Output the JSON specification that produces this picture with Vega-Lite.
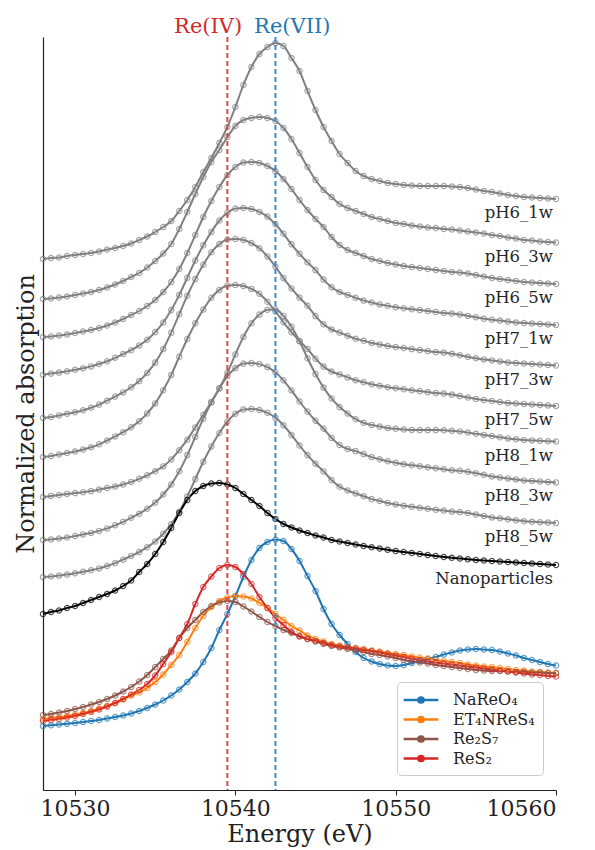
{
  "$schema": "https://vega.github.io/schema/vega-lite/v6.json",
  "width": 513,
  "height": 753,
  "autosize": {"type": "none"},
  "padding": {"left": 43, "top": 37, "right": 39, "bottom": 60},
  "background": "white",
  "config": {
    "font": "DejaVu Serif",
    "view": {"stroke": null},
    "axis": {"grid": false, "titleFontWeight": "normal", "labelColor": "#222", "titleColor": "#222", "domainColor": "#222", "tickColor": "#222"},
    "legend": {
      "orient": "none", "legendX": 354, "legendY": 645, "title": null,
      "labelFontSize": 16, "labelFont": "DejaVu Serif", "labelColor": "#222",
      "symbolType": "M-2,0H2M0.3,0A0.3,0.3,0,1,1,-0.3,0A0.3,0.3,0,1,1,0.3,0",
      "symbolSize": 300, "symbolStrokeWidth": 2.5, "symbolOffset": 6, "labelOffset": 22,
      "symbolOpacity": 1, "symbolFillColor": "white",
      "strokeColor": "#cccccc", "fillColor": "white", "cornerRadius": 4, "padding": 8, "rowPadding": 1.5
    }
  },
  "layer": [
    {
      "data": {"values": [
        {"sample":"pH6_1w","E":10528,"mu":5.31},{"sample":"pH6_1w","E":10528.5,"mu":5.32},{"sample":"pH6_1w","E":10529,"mu":5.325},{"sample":"pH6_1w","E":10529.5,"mu":5.34},{"sample":"pH6_1w","E":10530,"mu":5.35},{"sample":"pH6_1w","E":10530.5,"mu":5.36},{"sample":"pH6_1w","E":10531,"mu":5.37},{"sample":"pH6_1w","E":10531.5,"mu":5.385},{"sample":"pH6_1w","E":10532,"mu":5.405},{"sample":"pH6_1w","E":10532.5,"mu":5.42},{"sample":"pH6_1w","E":10533,"mu":5.44},{"sample":"pH6_1w","E":10533.5,"mu":5.465},{"sample":"pH6_1w","E":10534,"mu":5.5},{"sample":"pH6_1w","E":10534.5,"mu":5.535},{"sample":"pH6_1w","E":10535,"mu":5.58},{"sample":"pH6_1w","E":10535.5,"mu":5.63},{"sample":"pH6_1w","E":10536,"mu":5.69},{"sample":"pH6_1w","E":10536.5,"mu":5.79},{"sample":"pH6_1w","E":10537,"mu":5.9},{"sample":"pH6_1w","E":10537.5,"mu":6.03},{"sample":"pH6_1w","E":10538,"mu":6.18},{"sample":"pH6_1w","E":10538.5,"mu":6.32},{"sample":"pH6_1w","E":10539,"mu":6.47},{"sample":"pH6_1w","E":10539.5,"mu":6.63},{"sample":"pH6_1w","E":10540,"mu":6.83},{"sample":"pH6_1w","E":10540.5,"mu":7.05},{"sample":"pH6_1w","E":10541,"mu":7.23},{"sample":"pH6_1w","E":10541.5,"mu":7.36},{"sample":"pH6_1w","E":10542,"mu":7.43},{"sample":"pH6_1w","E":10542.5,"mu":7.47},{"sample":"pH6_1w","E":10543,"mu":7.44},{"sample":"pH6_1w","E":10543.5,"mu":7.32},{"sample":"pH6_1w","E":10544,"mu":7.19},{"sample":"pH6_1w","E":10544.5,"mu":6.99},{"sample":"pH6_1w","E":10545,"mu":6.8},{"sample":"pH6_1w","E":10545.5,"mu":6.63},{"sample":"pH6_1w","E":10546,"mu":6.49},{"sample":"pH6_1w","E":10546.5,"mu":6.36},{"sample":"pH6_1w","E":10547,"mu":6.27},{"sample":"pH6_1w","E":10547.5,"mu":6.19},{"sample":"pH6_1w","E":10548,"mu":6.14},{"sample":"pH6_1w","E":10548.5,"mu":6.11},{"sample":"pH6_1w","E":10549,"mu":6.09},{"sample":"pH6_1w","E":10549.5,"mu":6.07},{"sample":"pH6_1w","E":10550,"mu":6.06},{"sample":"pH6_1w","E":10550.5,"mu":6.05},{"sample":"pH6_1w","E":10551,"mu":6.045},{"sample":"pH6_1w","E":10551.5,"mu":6.04},{"sample":"pH6_1w","E":10552,"mu":6.04},{"sample":"pH6_1w","E":10552.5,"mu":6.04},{"sample":"pH6_1w","E":10553,"mu":6.04},{"sample":"pH6_1w","E":10553.5,"mu":6.035},{"sample":"pH6_1w","E":10554,"mu":6.03},{"sample":"pH6_1w","E":10554.5,"mu":6.02},{"sample":"pH6_1w","E":10555,"mu":6.005},{"sample":"pH6_1w","E":10555.5,"mu":5.99},{"sample":"pH6_1w","E":10556,"mu":5.98},{"sample":"pH6_1w","E":10556.5,"mu":5.965},{"sample":"pH6_1w","E":10557,"mu":5.95},{"sample":"pH6_1w","E":10557.5,"mu":5.94},{"sample":"pH6_1w","E":10558,"mu":5.93},{"sample":"pH6_1w","E":10558.5,"mu":5.925},{"sample":"pH6_1w","E":10559,"mu":5.92},{"sample":"pH6_1w","E":10559.5,"mu":5.915},{"sample":"pH6_1w","E":10560,"mu":5.91},
        {"sample":"pH6_3w","E":10528,"mu":4.91},{"sample":"pH6_3w","E":10528.5,"mu":4.915},{"sample":"pH6_3w","E":10529,"mu":4.925},{"sample":"pH6_3w","E":10529.5,"mu":4.935},{"sample":"pH6_3w","E":10530,"mu":4.95},{"sample":"pH6_3w","E":10530.5,"mu":4.965},{"sample":"pH6_3w","E":10531,"mu":4.98},{"sample":"pH6_3w","E":10531.5,"mu":5.0},{"sample":"pH6_3w","E":10532,"mu":5.025},{"sample":"pH6_3w","E":10532.5,"mu":5.055},{"sample":"pH6_3w","E":10533,"mu":5.09},{"sample":"pH6_3w","E":10533.5,"mu":5.13},{"sample":"pH6_3w","E":10534,"mu":5.17},{"sample":"pH6_3w","E":10534.5,"mu":5.225},{"sample":"pH6_3w","E":10535,"mu":5.29},{"sample":"pH6_3w","E":10535.5,"mu":5.365},{"sample":"pH6_3w","E":10536,"mu":5.46},{"sample":"pH6_3w","E":10536.5,"mu":5.61},{"sample":"pH6_3w","E":10537,"mu":5.78},{"sample":"pH6_3w","E":10537.5,"mu":5.96},{"sample":"pH6_3w","E":10538,"mu":6.13},{"sample":"pH6_3w","E":10538.5,"mu":6.28},{"sample":"pH6_3w","E":10539,"mu":6.4},{"sample":"pH6_3w","E":10539.5,"mu":6.53},{"sample":"pH6_3w","E":10540,"mu":6.64},{"sample":"pH6_3w","E":10540.5,"mu":6.7},{"sample":"pH6_3w","E":10541,"mu":6.72},{"sample":"pH6_3w","E":10541.5,"mu":6.73},{"sample":"pH6_3w","E":10542,"mu":6.72},{"sample":"pH6_3w","E":10542.5,"mu":6.69},{"sample":"pH6_3w","E":10543,"mu":6.62},{"sample":"pH6_3w","E":10543.5,"mu":6.51},{"sample":"pH6_3w","E":10544,"mu":6.37},{"sample":"pH6_3w","E":10544.5,"mu":6.23},{"sample":"pH6_3w","E":10545,"mu":6.1},{"sample":"pH6_3w","E":10545.5,"mu":6.0},{"sample":"pH6_3w","E":10546,"mu":5.93},{"sample":"pH6_3w","E":10546.5,"mu":5.86},{"sample":"pH6_3w","E":10547,"mu":5.82},{"sample":"pH6_3w","E":10547.5,"mu":5.79},{"sample":"pH6_3w","E":10548,"mu":5.76},{"sample":"pH6_3w","E":10548.5,"mu":5.73},{"sample":"pH6_3w","E":10549,"mu":5.71},{"sample":"pH6_3w","E":10549.5,"mu":5.69},{"sample":"pH6_3w","E":10550,"mu":5.67},{"sample":"pH6_3w","E":10550.5,"mu":5.66},{"sample":"pH6_3w","E":10551,"mu":5.645},{"sample":"pH6_3w","E":10551.5,"mu":5.635},{"sample":"pH6_3w","E":10552,"mu":5.625},{"sample":"pH6_3w","E":10552.5,"mu":5.62},{"sample":"pH6_3w","E":10553,"mu":5.61},{"sample":"pH6_3w","E":10553.5,"mu":5.605},{"sample":"pH6_3w","E":10554,"mu":5.595},{"sample":"pH6_3w","E":10554.5,"mu":5.585},{"sample":"pH6_3w","E":10555,"mu":5.575},{"sample":"pH6_3w","E":10555.5,"mu":5.565},{"sample":"pH6_3w","E":10556,"mu":5.55},{"sample":"pH6_3w","E":10556.5,"mu":5.54},{"sample":"pH6_3w","E":10557,"mu":5.525},{"sample":"pH6_3w","E":10557.5,"mu":5.515},{"sample":"pH6_3w","E":10558,"mu":5.5},{"sample":"pH6_3w","E":10558.5,"mu":5.495},{"sample":"pH6_3w","E":10559,"mu":5.485},{"sample":"pH6_3w","E":10559.5,"mu":5.48},{"sample":"pH6_3w","E":10560,"mu":5.475},
        {"sample":"pH6_5w","E":10528,"mu":4.53},{"sample":"pH6_5w","E":10528.5,"mu":4.535},{"sample":"pH6_5w","E":10529,"mu":4.545},{"sample":"pH6_5w","E":10529.5,"mu":4.555},{"sample":"pH6_5w","E":10530,"mu":4.57},{"sample":"pH6_5w","E":10530.5,"mu":4.585},{"sample":"pH6_5w","E":10531,"mu":4.6},{"sample":"pH6_5w","E":10531.5,"mu":4.62},{"sample":"pH6_5w","E":10532,"mu":4.645},{"sample":"pH6_5w","E":10532.5,"mu":4.675},{"sample":"pH6_5w","E":10533,"mu":4.71},{"sample":"pH6_5w","E":10533.5,"mu":4.75},{"sample":"pH6_5w","E":10534,"mu":4.79},{"sample":"pH6_5w","E":10534.5,"mu":4.84},{"sample":"pH6_5w","E":10535,"mu":4.9},{"sample":"pH6_5w","E":10535.5,"mu":4.98},{"sample":"pH6_5w","E":10536,"mu":5.08},{"sample":"pH6_5w","E":10536.5,"mu":5.21},{"sample":"pH6_5w","E":10537,"mu":5.37},{"sample":"pH6_5w","E":10537.5,"mu":5.55},{"sample":"pH6_5w","E":10538,"mu":5.73},{"sample":"pH6_5w","E":10538.5,"mu":5.89},{"sample":"pH6_5w","E":10539,"mu":6.03},{"sample":"pH6_5w","E":10539.5,"mu":6.15},{"sample":"pH6_5w","E":10540,"mu":6.23},{"sample":"pH6_5w","E":10540.5,"mu":6.275},{"sample":"pH6_5w","E":10541,"mu":6.28},{"sample":"pH6_5w","E":10541.5,"mu":6.27},{"sample":"pH6_5w","E":10542,"mu":6.24},{"sample":"pH6_5w","E":10542.5,"mu":6.19},{"sample":"pH6_5w","E":10543,"mu":6.11},{"sample":"pH6_5w","E":10543.5,"mu":6.01},{"sample":"pH6_5w","E":10544,"mu":5.9},{"sample":"pH6_5w","E":10544.5,"mu":5.8},{"sample":"pH6_5w","E":10545,"mu":5.71},{"sample":"pH6_5w","E":10545.5,"mu":5.63},{"sample":"pH6_5w","E":10546,"mu":5.53},{"sample":"pH6_5w","E":10546.5,"mu":5.45},{"sample":"pH6_5w","E":10547,"mu":5.4},{"sample":"pH6_5w","E":10547.5,"mu":5.37},{"sample":"pH6_5w","E":10548,"mu":5.34},{"sample":"pH6_5w","E":10548.5,"mu":5.31},{"sample":"pH6_5w","E":10549,"mu":5.29},{"sample":"pH6_5w","E":10549.5,"mu":5.27},{"sample":"pH6_5w","E":10550,"mu":5.255},{"sample":"pH6_5w","E":10550.5,"mu":5.24},{"sample":"pH6_5w","E":10551,"mu":5.23},{"sample":"pH6_5w","E":10551.5,"mu":5.22},{"sample":"pH6_5w","E":10552,"mu":5.21},{"sample":"pH6_5w","E":10552.5,"mu":5.2},{"sample":"pH6_5w","E":10553,"mu":5.19},{"sample":"pH6_5w","E":10553.5,"mu":5.18},{"sample":"pH6_5w","E":10554,"mu":5.175},{"sample":"pH6_5w","E":10554.5,"mu":5.165},{"sample":"pH6_5w","E":10555,"mu":5.15},{"sample":"pH6_5w","E":10555.5,"mu":5.135},{"sample":"pH6_5w","E":10556,"mu":5.12},{"sample":"pH6_5w","E":10556.5,"mu":5.11},{"sample":"pH6_5w","E":10557,"mu":5.1},{"sample":"pH6_5w","E":10557.5,"mu":5.09},{"sample":"pH6_5w","E":10558,"mu":5.08},{"sample":"pH6_5w","E":10558.5,"mu":5.075},{"sample":"pH6_5w","E":10559,"mu":5.07},{"sample":"pH6_5w","E":10559.5,"mu":5.065},{"sample":"pH6_5w","E":10560,"mu":5.06},
        {"sample":"pH7_1w","E":10528,"mu":4.15},{"sample":"pH7_1w","E":10528.5,"mu":4.164},{"sample":"pH7_1w","E":10529,"mu":4.174},{"sample":"pH7_1w","E":10529.5,"mu":4.188},{"sample":"pH7_1w","E":10530,"mu":4.202},{"sample":"pH7_1w","E":10530.5,"mu":4.217},{"sample":"pH7_1w","E":10531,"mu":4.236},{"sample":"pH7_1w","E":10531.5,"mu":4.26},{"sample":"pH7_1w","E":10532,"mu":4.288},{"sample":"pH7_1w","E":10532.5,"mu":4.322},{"sample":"pH7_1w","E":10533,"mu":4.36},{"sample":"pH7_1w","E":10533.5,"mu":4.398},{"sample":"pH7_1w","E":10534,"mu":4.446},{"sample":"pH7_1w","E":10534.5,"mu":4.503},{"sample":"pH7_1w","E":10535,"mu":4.579},{"sample":"pH7_1w","E":10535.5,"mu":4.675},{"sample":"pH7_1w","E":10536,"mu":4.799},{"sample":"pH7_1w","E":10536.5,"mu":4.951},{"sample":"pH7_1w","E":10537,"mu":5.123},{"sample":"pH7_1w","E":10537.5,"mu":5.295},{"sample":"pH7_1w","E":10538,"mu":5.447},{"sample":"pH7_1w","E":10538.5,"mu":5.581},{"sample":"pH7_1w","E":10539,"mu":5.695},{"sample":"pH7_1w","E":10539.5,"mu":5.772},{"sample":"pH7_1w","E":10540,"mu":5.815},{"sample":"pH7_1w","E":10540.5,"mu":5.82},{"sample":"pH7_1w","E":10541,"mu":5.81},{"sample":"pH7_1w","E":10541.5,"mu":5.781},{"sample":"pH7_1w","E":10542,"mu":5.734},{"sample":"pH7_1w","E":10542.5,"mu":5.657},{"sample":"pH7_1w","E":10543,"mu":5.562},{"sample":"pH7_1w","E":10543.5,"mu":5.457},{"sample":"pH7_1w","E":10544,"mu":5.362},{"sample":"pH7_1w","E":10544.5,"mu":5.276},{"sample":"pH7_1w","E":10545,"mu":5.199},{"sample":"pH7_1w","E":10545.5,"mu":5.104},{"sample":"pH7_1w","E":10546,"mu":5.028},{"sample":"pH7_1w","E":10546.5,"mu":4.98},{"sample":"pH7_1w","E":10547,"mu":4.951},{"sample":"pH7_1w","E":10547.5,"mu":4.923},{"sample":"pH7_1w","E":10548,"mu":4.894},{"sample":"pH7_1w","E":10548.5,"mu":4.875},{"sample":"pH7_1w","E":10549,"mu":4.856},{"sample":"pH7_1w","E":10549.5,"mu":4.842},{"sample":"pH7_1w","E":10550,"mu":4.827},{"sample":"pH7_1w","E":10550.5,"mu":4.818},{"sample":"pH7_1w","E":10551,"mu":4.808},{"sample":"pH7_1w","E":10551.5,"mu":4.799},{"sample":"pH7_1w","E":10552,"mu":4.789},{"sample":"pH7_1w","E":10552.5,"mu":4.78},{"sample":"pH7_1w","E":10553,"mu":4.77},{"sample":"pH7_1w","E":10553.5,"mu":4.765},{"sample":"pH7_1w","E":10554,"mu":4.756},{"sample":"pH7_1w","E":10554.5,"mu":4.741},{"sample":"pH7_1w","E":10555,"mu":4.727},{"sample":"pH7_1w","E":10555.5,"mu":4.713},{"sample":"pH7_1w","E":10556,"mu":4.703},{"sample":"pH7_1w","E":10556.5,"mu":4.694},{"sample":"pH7_1w","E":10557,"mu":4.684},{"sample":"pH7_1w","E":10557.5,"mu":4.675},{"sample":"pH7_1w","E":10558,"mu":4.67},{"sample":"pH7_1w","E":10558.5,"mu":4.665},{"sample":"pH7_1w","E":10559,"mu":4.66},{"sample":"pH7_1w","E":10559.5,"mu":4.656},{"sample":"pH7_1w","E":10560,"mu":4.651},
        {"sample":"pH7_3w","E":10528,"mu":3.72},{"sample":"pH7_3w","E":10528.5,"mu":3.73},{"sample":"pH7_3w","E":10529,"mu":3.746},{"sample":"pH7_3w","E":10529.5,"mu":3.762},{"sample":"pH7_3w","E":10530,"mu":3.777},{"sample":"pH7_3w","E":10530.5,"mu":3.798},{"sample":"pH7_3w","E":10531,"mu":3.823},{"sample":"pH7_3w","E":10531.5,"mu":3.854},{"sample":"pH7_3w","E":10532,"mu":3.893},{"sample":"pH7_3w","E":10532.5,"mu":3.934},{"sample":"pH7_3w","E":10533,"mu":3.976},{"sample":"pH7_3w","E":10533.5,"mu":4.027},{"sample":"pH7_3w","E":10534,"mu":4.089},{"sample":"pH7_3w","E":10534.5,"mu":4.171},{"sample":"pH7_3w","E":10535,"mu":4.274},{"sample":"pH7_3w","E":10535.5,"mu":4.409},{"sample":"pH7_3w","E":10536,"mu":4.573},{"sample":"pH7_3w","E":10536.5,"mu":4.758},{"sample":"pH7_3w","E":10537,"mu":4.943},{"sample":"pH7_3w","E":10537.5,"mu":5.109},{"sample":"pH7_3w","E":10538,"mu":5.253},{"sample":"pH7_3w","E":10538.5,"mu":5.377},{"sample":"pH7_3w","E":10539,"mu":5.459},{"sample":"pH7_3w","E":10539.5,"mu":5.505},{"sample":"pH7_3w","E":10540,"mu":5.51},{"sample":"pH7_3w","E":10540.5,"mu":5.5},{"sample":"pH7_3w","E":10541,"mu":5.469},{"sample":"pH7_3w","E":10541.5,"mu":5.418},{"sample":"pH7_3w","E":10542,"mu":5.336},{"sample":"pH7_3w","E":10542.5,"mu":5.233},{"sample":"pH7_3w","E":10543,"mu":5.119},{"sample":"pH7_3w","E":10543.5,"mu":5.016},{"sample":"pH7_3w","E":10544,"mu":4.924},{"sample":"pH7_3w","E":10544.5,"mu":4.842},{"sample":"pH7_3w","E":10545,"mu":4.739},{"sample":"pH7_3w","E":10545.5,"mu":4.657},{"sample":"pH7_3w","E":10546,"mu":4.605},{"sample":"pH7_3w","E":10546.5,"mu":4.574},{"sample":"pH7_3w","E":10547,"mu":4.543},{"sample":"pH7_3w","E":10547.5,"mu":4.512},{"sample":"pH7_3w","E":10548,"mu":4.492},{"sample":"pH7_3w","E":10548.5,"mu":4.471},{"sample":"pH7_3w","E":10549,"mu":4.456},{"sample":"pH7_3w","E":10549.5,"mu":4.44},{"sample":"pH7_3w","E":10550,"mu":4.43},{"sample":"pH7_3w","E":10550.5,"mu":4.42},{"sample":"pH7_3w","E":10551,"mu":4.409},{"sample":"pH7_3w","E":10551.5,"mu":4.399},{"sample":"pH7_3w","E":10552,"mu":4.389},{"sample":"pH7_3w","E":10552.5,"mu":4.379},{"sample":"pH7_3w","E":10553,"mu":4.374},{"sample":"pH7_3w","E":10553.5,"mu":4.363},{"sample":"pH7_3w","E":10554,"mu":4.348},{"sample":"pH7_3w","E":10554.5,"mu":4.332},{"sample":"pH7_3w","E":10555,"mu":4.317},{"sample":"pH7_3w","E":10555.5,"mu":4.306},{"sample":"pH7_3w","E":10556,"mu":4.296},{"sample":"pH7_3w","E":10556.5,"mu":4.286},{"sample":"pH7_3w","E":10557,"mu":4.275},{"sample":"pH7_3w","E":10557.5,"mu":4.27},{"sample":"pH7_3w","E":10558,"mu":4.265},{"sample":"pH7_3w","E":10558.5,"mu":4.26},{"sample":"pH7_3w","E":10559,"mu":4.255},{"sample":"pH7_3w","E":10559.5,"mu":4.25},{"sample":"pH7_3w","E":10560,"mu":4.245},
        {"sample":"pH7_5w","E":10528,"mu":3.33},{"sample":"pH7_5w","E":10528.5,"mu":3.34},{"sample":"pH7_5w","E":10529,"mu":3.355},{"sample":"pH7_5w","E":10529.5,"mu":3.37},{"sample":"pH7_5w","E":10530,"mu":3.385},{"sample":"pH7_5w","E":10530.5,"mu":3.405},{"sample":"pH7_5w","E":10531,"mu":3.428},{"sample":"pH7_5w","E":10531.5,"mu":3.457},{"sample":"pH7_5w","E":10532,"mu":3.495},{"sample":"pH7_5w","E":10532.5,"mu":3.536},{"sample":"pH7_5w","E":10533,"mu":3.578},{"sample":"pH7_5w","E":10533.5,"mu":3.627},{"sample":"pH7_5w","E":10534,"mu":3.687},{"sample":"pH7_5w","E":10534.5,"mu":3.766},{"sample":"pH7_5w","E":10535,"mu":3.866},{"sample":"pH7_5w","E":10535.5,"mu":3.998},{"sample":"pH7_5w","E":10536,"mu":4.151},{"sample":"pH7_5w","E":10536.5,"mu":4.333},{"sample":"pH7_5w","E":10537,"mu":4.51},{"sample":"pH7_5w","E":10537.5,"mu":4.667},{"sample":"pH7_5w","E":10538,"mu":4.805},{"sample":"pH7_5w","E":10538.5,"mu":4.922},{"sample":"pH7_5w","E":10539,"mu":5.001},{"sample":"pH7_5w","E":10539.5,"mu":5.045},{"sample":"pH7_5w","E":10540,"mu":5.05},{"sample":"pH7_5w","E":10540.5,"mu":5.04},{"sample":"pH7_5w","E":10541,"mu":5.011},{"sample":"pH7_5w","E":10541.5,"mu":4.962},{"sample":"pH7_5w","E":10542,"mu":4.883},{"sample":"pH7_5w","E":10542.5,"mu":4.785},{"sample":"pH7_5w","E":10543,"mu":4.677},{"sample":"pH7_5w","E":10543.5,"mu":4.578},{"sample":"pH7_5w","E":10544,"mu":4.49},{"sample":"pH7_5w","E":10544.5,"mu":4.411},{"sample":"pH7_5w","E":10545,"mu":4.313},{"sample":"pH7_5w","E":10545.5,"mu":4.234},{"sample":"pH7_5w","E":10546,"mu":4.185},{"sample":"pH7_5w","E":10546.5,"mu":4.156},{"sample":"pH7_5w","E":10547,"mu":4.126},{"sample":"pH7_5w","E":10547.5,"mu":4.097},{"sample":"pH7_5w","E":10548,"mu":4.077},{"sample":"pH7_5w","E":10548.5,"mu":4.057},{"sample":"pH7_5w","E":10549,"mu":4.043},{"sample":"pH7_5w","E":10549.5,"mu":4.028},{"sample":"pH7_5w","E":10550,"mu":4.018},{"sample":"pH7_5w","E":10550.5,"mu":4.008},{"sample":"pH7_5w","E":10551,"mu":3.998},{"sample":"pH7_5w","E":10551.5,"mu":3.989},{"sample":"pH7_5w","E":10552,"mu":3.979},{"sample":"pH7_5w","E":10552.5,"mu":3.969},{"sample":"pH7_5w","E":10553,"mu":3.964},{"sample":"pH7_5w","E":10553.5,"mu":3.954},{"sample":"pH7_5w","E":10554,"mu":3.939},{"sample":"pH7_5w","E":10554.5,"mu":3.925},{"sample":"pH7_5w","E":10555,"mu":3.91},{"sample":"pH7_5w","E":10555.5,"mu":3.9},{"sample":"pH7_5w","E":10556,"mu":3.89},{"sample":"pH7_5w","E":10556.5,"mu":3.88},{"sample":"pH7_5w","E":10557,"mu":3.871},{"sample":"pH7_5w","E":10557.5,"mu":3.866},{"sample":"pH7_5w","E":10558,"mu":3.861},{"sample":"pH7_5w","E":10558.5,"mu":3.856},{"sample":"pH7_5w","E":10559,"mu":3.851},{"sample":"pH7_5w","E":10559.5,"mu":3.846},{"sample":"pH7_5w","E":10560,"mu":3.841},
        {"sample":"pH8_1w","E":10528,"mu":2.93},{"sample":"pH8_1w","E":10528.5,"mu":2.941},{"sample":"pH8_1w","E":10529,"mu":2.95},{"sample":"pH8_1w","E":10529.5,"mu":2.961},{"sample":"pH8_1w","E":10530,"mu":2.969},{"sample":"pH8_1w","E":10530.5,"mu":2.978},{"sample":"pH8_1w","E":10531,"mu":2.989},{"sample":"pH8_1w","E":10531.5,"mu":3.004},{"sample":"pH8_1w","E":10532,"mu":3.02},{"sample":"pH8_1w","E":10532.5,"mu":3.035},{"sample":"pH8_1w","E":10533,"mu":3.055},{"sample":"pH8_1w","E":10533.5,"mu":3.081},{"sample":"pH8_1w","E":10534,"mu":3.112},{"sample":"pH8_1w","E":10534.5,"mu":3.147},{"sample":"pH8_1w","E":10535,"mu":3.188},{"sample":"pH8_1w","E":10535.5,"mu":3.236},{"sample":"pH8_1w","E":10536,"mu":3.306},{"sample":"pH8_1w","E":10536.5,"mu":3.398},{"sample":"pH8_1w","E":10537,"mu":3.503},{"sample":"pH8_1w","E":10537.5,"mu":3.626},{"sample":"pH8_1w","E":10538,"mu":3.753},{"sample":"pH8_1w","E":10538.5,"mu":3.879},{"sample":"pH8_1w","E":10539,"mu":4.015},{"sample":"pH8_1w","E":10539.5,"mu":4.173},{"sample":"pH8_1w","E":10540,"mu":4.356},{"sample":"pH8_1w","E":10540.5,"mu":4.531},{"sample":"pH8_1w","E":10541,"mu":4.667},{"sample":"pH8_1w","E":10541.5,"mu":4.754},{"sample":"pH8_1w","E":10542,"mu":4.803},{"sample":"pH8_1w","E":10542.5,"mu":4.807},{"sample":"pH8_1w","E":10543,"mu":4.741},{"sample":"pH8_1w","E":10543.5,"mu":4.632},{"sample":"pH8_1w","E":10544,"mu":4.488},{"sample":"pH8_1w","E":10544.5,"mu":4.317},{"sample":"pH8_1w","E":10545,"mu":4.159},{"sample":"pH8_1w","E":10545.5,"mu":4.024},{"sample":"pH8_1w","E":10546,"mu":3.916},{"sample":"pH8_1w","E":10546.5,"mu":3.829},{"sample":"pH8_1w","E":10547,"mu":3.765},{"sample":"pH8_1w","E":10547.5,"mu":3.708},{"sample":"pH8_1w","E":10548,"mu":3.673},{"sample":"pH8_1w","E":10548.5,"mu":3.651},{"sample":"pH8_1w","E":10549,"mu":3.634},{"sample":"pH8_1w","E":10549.5,"mu":3.621},{"sample":"pH8_1w","E":10550,"mu":3.612},{"sample":"pH8_1w","E":10550.5,"mu":3.605},{"sample":"pH8_1w","E":10551,"mu":3.601},{"sample":"pH8_1w","E":10551.5,"mu":3.599},{"sample":"pH8_1w","E":10552,"mu":3.599},{"sample":"pH8_1w","E":10552.5,"mu":3.599},{"sample":"pH8_1w","E":10553,"mu":3.597},{"sample":"pH8_1w","E":10553.5,"mu":3.592},{"sample":"pH8_1w","E":10554,"mu":3.586},{"sample":"pH8_1w","E":10554.5,"mu":3.575},{"sample":"pH8_1w","E":10555,"mu":3.562},{"sample":"pH8_1w","E":10555.5,"mu":3.551},{"sample":"pH8_1w","E":10556,"mu":3.54},{"sample":"pH8_1w","E":10556.5,"mu":3.527},{"sample":"pH8_1w","E":10557,"mu":3.516},{"sample":"pH8_1w","E":10557.5,"mu":3.507},{"sample":"pH8_1w","E":10558,"mu":3.5},{"sample":"pH8_1w","E":10558.5,"mu":3.496},{"sample":"pH8_1w","E":10559,"mu":3.492},{"sample":"pH8_1w","E":10559.5,"mu":3.487},{"sample":"pH8_1w","E":10560,"mu":3.485},
        {"sample":"pH8_3w","E":10528,"mu":2.5},{"sample":"pH8_3w","E":10528.5,"mu":2.505},{"sample":"pH8_3w","E":10529,"mu":2.515},{"sample":"pH8_3w","E":10529.5,"mu":2.525},{"sample":"pH8_3w","E":10530,"mu":2.54},{"sample":"pH8_3w","E":10530.5,"mu":2.556},{"sample":"pH8_3w","E":10531,"mu":2.571},{"sample":"pH8_3w","E":10531.5,"mu":2.591},{"sample":"pH8_3w","E":10532,"mu":2.616},{"sample":"pH8_3w","E":10532.5,"mu":2.647},{"sample":"pH8_3w","E":10533,"mu":2.682},{"sample":"pH8_3w","E":10533.5,"mu":2.722},{"sample":"pH8_3w","E":10534,"mu":2.763},{"sample":"pH8_3w","E":10534.5,"mu":2.813},{"sample":"pH8_3w","E":10535,"mu":2.874},{"sample":"pH8_3w","E":10535.5,"mu":2.955},{"sample":"pH8_3w","E":10536,"mu":3.056},{"sample":"pH8_3w","E":10536.5,"mu":3.187},{"sample":"pH8_3w","E":10537,"mu":3.349},{"sample":"pH8_3w","E":10537.5,"mu":3.531},{"sample":"pH8_3w","E":10538,"mu":3.713},{"sample":"pH8_3w","E":10538.5,"mu":3.875},{"sample":"pH8_3w","E":10539,"mu":4.017},{"sample":"pH8_3w","E":10539.5,"mu":4.138},{"sample":"pH8_3w","E":10540,"mu":4.219},{"sample":"pH8_3w","E":10540.5,"mu":4.264},{"sample":"pH8_3w","E":10541,"mu":4.269},{"sample":"pH8_3w","E":10541.5,"mu":4.259},{"sample":"pH8_3w","E":10542,"mu":4.229},{"sample":"pH8_3w","E":10542.5,"mu":4.178},{"sample":"pH8_3w","E":10543,"mu":4.097},{"sample":"pH8_3w","E":10543.5,"mu":3.996},{"sample":"pH8_3w","E":10544,"mu":3.885},{"sample":"pH8_3w","E":10544.5,"mu":3.784},{"sample":"pH8_3w","E":10545,"mu":3.693},{"sample":"pH8_3w","E":10545.5,"mu":3.612},{"sample":"pH8_3w","E":10546,"mu":3.521},{"sample":"pH8_3w","E":10546.5,"mu":3.45},{"sample":"pH8_3w","E":10547,"mu":3.41},{"sample":"pH8_3w","E":10547.5,"mu":3.389},{"sample":"pH8_3w","E":10548,"mu":3.359},{"sample":"pH8_3w","E":10548.5,"mu":3.329},{"sample":"pH8_3w","E":10549,"mu":3.308},{"sample":"pH8_3w","E":10549.5,"mu":3.288},{"sample":"pH8_3w","E":10550,"mu":3.273},{"sample":"pH8_3w","E":10550.5,"mu":3.258},{"sample":"pH8_3w","E":10551,"mu":3.248},{"sample":"pH8_3w","E":10551.5,"mu":3.238},{"sample":"pH8_3w","E":10552,"mu":3.227},{"sample":"pH8_3w","E":10552.5,"mu":3.217},{"sample":"pH8_3w","E":10553,"mu":3.207},{"sample":"pH8_3w","E":10553.5,"mu":3.197},{"sample":"pH8_3w","E":10554,"mu":3.192},{"sample":"pH8_3w","E":10554.5,"mu":3.182},{"sample":"pH8_3w","E":10555,"mu":3.167},{"sample":"pH8_3w","E":10555.5,"mu":3.152},{"sample":"pH8_3w","E":10556,"mu":3.136},{"sample":"pH8_3w","E":10556.5,"mu":3.126},{"sample":"pH8_3w","E":10557,"mu":3.116},{"sample":"pH8_3w","E":10557.5,"mu":3.106},{"sample":"pH8_3w","E":10558,"mu":3.096},{"sample":"pH8_3w","E":10558.5,"mu":3.091},{"sample":"pH8_3w","E":10559,"mu":3.086},{"sample":"pH8_3w","E":10559.5,"mu":3.081},{"sample":"pH8_3w","E":10560,"mu":3.076},
        {"sample":"pH8_5w","E":10528,"mu":2.13},{"sample":"pH8_5w","E":10528.5,"mu":2.135},{"sample":"pH8_5w","E":10529,"mu":2.144},{"sample":"pH8_5w","E":10529.5,"mu":2.154},{"sample":"pH8_5w","E":10530,"mu":2.168},{"sample":"pH8_5w","E":10530.5,"mu":2.183},{"sample":"pH8_5w","E":10531,"mu":2.197},{"sample":"pH8_5w","E":10531.5,"mu":2.216},{"sample":"pH8_5w","E":10532,"mu":2.24},{"sample":"pH8_5w","E":10532.5,"mu":2.269},{"sample":"pH8_5w","E":10533,"mu":2.303},{"sample":"pH8_5w","E":10533.5,"mu":2.341},{"sample":"pH8_5w","E":10534,"mu":2.38},{"sample":"pH8_5w","E":10534.5,"mu":2.428},{"sample":"pH8_5w","E":10535,"mu":2.485},{"sample":"pH8_5w","E":10535.5,"mu":2.562},{"sample":"pH8_5w","E":10536,"mu":2.658},{"sample":"pH8_5w","E":10536.5,"mu":2.783},{"sample":"pH8_5w","E":10537,"mu":2.936},{"sample":"pH8_5w","E":10537.5,"mu":3.109},{"sample":"pH8_5w","E":10538,"mu":3.282},{"sample":"pH8_5w","E":10538.5,"mu":3.436},{"sample":"pH8_5w","E":10539,"mu":3.57},{"sample":"pH8_5w","E":10539.5,"mu":3.685},{"sample":"pH8_5w","E":10540,"mu":3.762},{"sample":"pH8_5w","E":10540.5,"mu":3.805},{"sample":"pH8_5w","E":10541,"mu":3.81},{"sample":"pH8_5w","E":10541.5,"mu":3.8},{"sample":"pH8_5w","E":10542,"mu":3.772},{"sample":"pH8_5w","E":10542.5,"mu":3.724},{"sample":"pH8_5w","E":10543,"mu":3.647},{"sample":"pH8_5w","E":10543.5,"mu":3.551},{"sample":"pH8_5w","E":10544,"mu":3.445},{"sample":"pH8_5w","E":10544.5,"mu":3.349},{"sample":"pH8_5w","E":10545,"mu":3.263},{"sample":"pH8_5w","E":10545.5,"mu":3.186},{"sample":"pH8_5w","E":10546,"mu":3.1},{"sample":"pH8_5w","E":10546.5,"mu":3.033},{"sample":"pH8_5w","E":10547,"mu":2.995},{"sample":"pH8_5w","E":10547.5,"mu":2.966},{"sample":"pH8_5w","E":10548,"mu":2.938},{"sample":"pH8_5w","E":10548.5,"mu":2.909},{"sample":"pH8_5w","E":10549,"mu":2.89},{"sample":"pH8_5w","E":10549.5,"mu":2.87},{"sample":"pH8_5w","E":10550,"mu":2.856},{"sample":"pH8_5w","E":10550.5,"mu":2.842},{"sample":"pH8_5w","E":10551,"mu":2.832},{"sample":"pH8_5w","E":10551.5,"mu":2.822},{"sample":"pH8_5w","E":10552,"mu":2.813},{"sample":"pH8_5w","E":10552.5,"mu":2.803},{"sample":"pH8_5w","E":10553,"mu":2.794},{"sample":"pH8_5w","E":10553.5,"mu":2.784},{"sample":"pH8_5w","E":10554,"mu":2.779},{"sample":"pH8_5w","E":10554.5,"mu":2.77},{"sample":"pH8_5w","E":10555,"mu":2.755},{"sample":"pH8_5w","E":10555.5,"mu":2.741},{"sample":"pH8_5w","E":10556,"mu":2.726},{"sample":"pH8_5w","E":10556.5,"mu":2.717},{"sample":"pH8_5w","E":10557,"mu":2.707},{"sample":"pH8_5w","E":10557.5,"mu":2.698},{"sample":"pH8_5w","E":10558,"mu":2.688},{"sample":"pH8_5w","E":10558.5,"mu":2.683},{"sample":"pH8_5w","E":10559,"mu":2.678},{"sample":"pH8_5w","E":10559.5,"mu":2.674},{"sample":"pH8_5w","E":10560,"mu":2.669},
        {"sample":"Nanoparticles","E":10528,"mu":1.76},{"sample":"Nanoparticles","E":10528.5,"mu":1.78},{"sample":"Nanoparticles","E":10529,"mu":1.795},{"sample":"Nanoparticles","E":10529.5,"mu":1.82},{"sample":"Nanoparticles","E":10530,"mu":1.84},{"sample":"Nanoparticles","E":10530.5,"mu":1.87},{"sample":"Nanoparticles","E":10531,"mu":1.9},{"sample":"Nanoparticles","E":10531.5,"mu":1.93},{"sample":"Nanoparticles","E":10532,"mu":1.96},{"sample":"Nanoparticles","E":10532.5,"mu":1.995},{"sample":"Nanoparticles","E":10533,"mu":2.04},{"sample":"Nanoparticles","E":10533.5,"mu":2.095},{"sample":"Nanoparticles","E":10534,"mu":2.18},{"sample":"Nanoparticles","E":10534.5,"mu":2.26},{"sample":"Nanoparticles","E":10535,"mu":2.36},{"sample":"Nanoparticles","E":10535.5,"mu":2.48},{"sample":"Nanoparticles","E":10536,"mu":2.62},{"sample":"Nanoparticles","E":10536.5,"mu":2.77},{"sample":"Nanoparticles","E":10537,"mu":2.9},{"sample":"Nanoparticles","E":10537.5,"mu":2.99},{"sample":"Nanoparticles","E":10538,"mu":3.04},{"sample":"Nanoparticles","E":10538.5,"mu":3.065},{"sample":"Nanoparticles","E":10539,"mu":3.07},{"sample":"Nanoparticles","E":10539.5,"mu":3.055},{"sample":"Nanoparticles","E":10540,"mu":3.02},{"sample":"Nanoparticles","E":10540.5,"mu":2.96},{"sample":"Nanoparticles","E":10541,"mu":2.9},{"sample":"Nanoparticles","E":10541.5,"mu":2.84},{"sample":"Nanoparticles","E":10542,"mu":2.77},{"sample":"Nanoparticles","E":10542.5,"mu":2.71},{"sample":"Nanoparticles","E":10543,"mu":2.66},{"sample":"Nanoparticles","E":10543.5,"mu":2.625},{"sample":"Nanoparticles","E":10544,"mu":2.595},{"sample":"Nanoparticles","E":10544.5,"mu":2.57},{"sample":"Nanoparticles","E":10545,"mu":2.545},{"sample":"Nanoparticles","E":10545.5,"mu":2.525},{"sample":"Nanoparticles","E":10546,"mu":2.5},{"sample":"Nanoparticles","E":10546.5,"mu":2.485},{"sample":"Nanoparticles","E":10547,"mu":2.47},{"sample":"Nanoparticles","E":10547.5,"mu":2.455},{"sample":"Nanoparticles","E":10548,"mu":2.44},{"sample":"Nanoparticles","E":10548.5,"mu":2.428},{"sample":"Nanoparticles","E":10549,"mu":2.415},{"sample":"Nanoparticles","E":10549.5,"mu":2.402},{"sample":"Nanoparticles","E":10550,"mu":2.39},{"sample":"Nanoparticles","E":10550.5,"mu":2.38},{"sample":"Nanoparticles","E":10551,"mu":2.37},{"sample":"Nanoparticles","E":10551.5,"mu":2.36},{"sample":"Nanoparticles","E":10552,"mu":2.35},{"sample":"Nanoparticles","E":10552.5,"mu":2.34},{"sample":"Nanoparticles","E":10553,"mu":2.33},{"sample":"Nanoparticles","E":10553.5,"mu":2.322},{"sample":"Nanoparticles","E":10554,"mu":2.315},{"sample":"Nanoparticles","E":10554.5,"mu":2.308},{"sample":"Nanoparticles","E":10555,"mu":2.3},{"sample":"Nanoparticles","E":10555.5,"mu":2.295},{"sample":"Nanoparticles","E":10556,"mu":2.29},{"sample":"Nanoparticles","E":10556.5,"mu":2.285},{"sample":"Nanoparticles","E":10557,"mu":2.28},{"sample":"Nanoparticles","E":10557.5,"mu":2.275},{"sample":"Nanoparticles","E":10558,"mu":2.27},{"sample":"Nanoparticles","E":10558.5,"mu":2.265},{"sample":"Nanoparticles","E":10559,"mu":2.26},{"sample":"Nanoparticles","E":10559.5,"mu":2.255},{"sample":"Nanoparticles","E":10560,"mu":2.25},
        {"sample":"NaReO₄","E":10528,"mu":0.64},{"sample":"NaReO₄","E":10528.5,"mu":0.648},{"sample":"NaReO₄","E":10529,"mu":0.655},{"sample":"NaReO₄","E":10529.5,"mu":0.662},{"sample":"NaReO₄","E":10530,"mu":0.67},{"sample":"NaReO₄","E":10530.5,"mu":0.68},{"sample":"NaReO₄","E":10531,"mu":0.69},{"sample":"NaReO₄","E":10531.5,"mu":0.7},{"sample":"NaReO₄","E":10532,"mu":0.715},{"sample":"NaReO₄","E":10532.5,"mu":0.73},{"sample":"NaReO₄","E":10533,"mu":0.745},{"sample":"NaReO₄","E":10533.5,"mu":0.765},{"sample":"NaReO₄","E":10534,"mu":0.79},{"sample":"NaReO₄","E":10534.5,"mu":0.82},{"sample":"NaReO₄","E":10535,"mu":0.855},{"sample":"NaReO₄","E":10535.5,"mu":0.895},{"sample":"NaReO₄","E":10536,"mu":0.945},{"sample":"NaReO₄","E":10536.5,"mu":1.005},{"sample":"NaReO₄","E":10537,"mu":1.08},{"sample":"NaReO₄","E":10537.5,"mu":1.165},{"sample":"NaReO₄","E":10538,"mu":1.28},{"sample":"NaReO₄","E":10538.5,"mu":1.42},{"sample":"NaReO₄","E":10539,"mu":1.6},{"sample":"NaReO₄","E":10539.5,"mu":1.76},{"sample":"NaReO₄","E":10540,"mu":1.94},{"sample":"NaReO₄","E":10540.5,"mu":2.13},{"sample":"NaReO₄","E":10541,"mu":2.3},{"sample":"NaReO₄","E":10541.5,"mu":2.42},{"sample":"NaReO₄","E":10542,"mu":2.48},{"sample":"NaReO₄","E":10542.5,"mu":2.505},{"sample":"NaReO₄","E":10543,"mu":2.49},{"sample":"NaReO₄","E":10543.5,"mu":2.41},{"sample":"NaReO₄","E":10544,"mu":2.29},{"sample":"NaReO₄","E":10544.5,"mu":2.14},{"sample":"NaReO₄","E":10545,"mu":1.99},{"sample":"NaReO₄","E":10545.5,"mu":1.81},{"sample":"NaReO₄","E":10546,"mu":1.66},{"sample":"NaReO₄","E":10546.5,"mu":1.55},{"sample":"NaReO₄","E":10547,"mu":1.46},{"sample":"NaReO₄","E":10547.5,"mu":1.38},{"sample":"NaReO₄","E":10548,"mu":1.32},{"sample":"NaReO₄","E":10548.5,"mu":1.285},{"sample":"NaReO₄","E":10549,"mu":1.26},{"sample":"NaReO₄","E":10549.5,"mu":1.245},{"sample":"NaReO₄","E":10550,"mu":1.24},{"sample":"NaReO₄","E":10550.5,"mu":1.25},{"sample":"NaReO₄","E":10551,"mu":1.27},{"sample":"NaReO₄","E":10551.5,"mu":1.29},{"sample":"NaReO₄","E":10552,"mu":1.31},{"sample":"NaReO₄","E":10552.5,"mu":1.33},{"sample":"NaReO₄","E":10553,"mu":1.355},{"sample":"NaReO₄","E":10553.5,"mu":1.375},{"sample":"NaReO₄","E":10554,"mu":1.395},{"sample":"NaReO₄","E":10554.5,"mu":1.405},{"sample":"NaReO₄","E":10555,"mu":1.41},{"sample":"NaReO₄","E":10555.5,"mu":1.405},{"sample":"NaReO₄","E":10556,"mu":1.4},{"sample":"NaReO₄","E":10556.5,"mu":1.385},{"sample":"NaReO₄","E":10557,"mu":1.365},{"sample":"NaReO₄","E":10557.5,"mu":1.345},{"sample":"NaReO₄","E":10558,"mu":1.32},{"sample":"NaReO₄","E":10558.5,"mu":1.3},{"sample":"NaReO₄","E":10559,"mu":1.28},{"sample":"NaReO₄","E":10559.5,"mu":1.26},{"sample":"NaReO₄","E":10560,"mu":1.245},
        {"sample":"ET₄NReS₄","E":10528,"mu":0.71},{"sample":"ET₄NReS₄","E":10528.5,"mu":0.72},{"sample":"ET₄NReS₄","E":10529,"mu":0.73},{"sample":"ET₄NReS₄","E":10529.5,"mu":0.74},{"sample":"ET₄NReS₄","E":10530,"mu":0.755},{"sample":"ET₄NReS₄","E":10530.5,"mu":0.77},{"sample":"ET₄NReS₄","E":10531,"mu":0.79},{"sample":"ET₄NReS₄","E":10531.5,"mu":0.815},{"sample":"ET₄NReS₄","E":10532,"mu":0.84},{"sample":"ET₄NReS₄","E":10532.5,"mu":0.87},{"sample":"ET₄NReS₄","E":10533,"mu":0.905},{"sample":"ET₄NReS₄","E":10533.5,"mu":0.945},{"sample":"ET₄NReS₄","E":10534,"mu":0.975},{"sample":"ET₄NReS₄","E":10534.5,"mu":1.02},{"sample":"ET₄NReS₄","E":10535,"mu":1.08},{"sample":"ET₄NReS₄","E":10535.5,"mu":1.155},{"sample":"ET₄NReS₄","E":10536,"mu":1.25},{"sample":"ET₄NReS₄","E":10536.5,"mu":1.35},{"sample":"ET₄NReS₄","E":10537,"mu":1.48},{"sample":"ET₄NReS₄","E":10537.5,"mu":1.62},{"sample":"ET₄NReS₄","E":10538,"mu":1.74},{"sample":"ET₄NReS₄","E":10538.5,"mu":1.83},{"sample":"ET₄NReS₄","E":10539,"mu":1.89},{"sample":"ET₄NReS₄","E":10539.5,"mu":1.925},{"sample":"ET₄NReS₄","E":10540,"mu":1.94},{"sample":"ET₄NReS₄","E":10540.5,"mu":1.935},{"sample":"ET₄NReS₄","E":10541,"mu":1.915},{"sample":"ET₄NReS₄","E":10541.5,"mu":1.87},{"sample":"ET₄NReS₄","E":10542,"mu":1.82},{"sample":"ET₄NReS₄","E":10542.5,"mu":1.76},{"sample":"ET₄NReS₄","E":10543,"mu":1.7},{"sample":"ET₄NReS₄","E":10543.5,"mu":1.64},{"sample":"ET₄NReS₄","E":10544,"mu":1.595},{"sample":"ET₄NReS₄","E":10544.5,"mu":1.545},{"sample":"ET₄NReS₄","E":10545,"mu":1.51},{"sample":"ET₄NReS₄","E":10545.5,"mu":1.485},{"sample":"ET₄NReS₄","E":10546,"mu":1.46},{"sample":"ET₄NReS₄","E":10546.5,"mu":1.445},{"sample":"ET₄NReS₄","E":10547,"mu":1.43},{"sample":"ET₄NReS₄","E":10547.5,"mu":1.42},{"sample":"ET₄NReS₄","E":10548,"mu":1.41},{"sample":"ET₄NReS₄","E":10548.5,"mu":1.395},{"sample":"ET₄NReS₄","E":10549,"mu":1.385},{"sample":"ET₄NReS₄","E":10549.5,"mu":1.37},{"sample":"ET₄NReS₄","E":10550,"mu":1.36},{"sample":"ET₄NReS₄","E":10550.5,"mu":1.35},{"sample":"ET₄NReS₄","E":10551,"mu":1.335},{"sample":"ET₄NReS₄","E":10551.5,"mu":1.325},{"sample":"ET₄NReS₄","E":10552,"mu":1.315},{"sample":"ET₄NReS₄","E":10552.5,"mu":1.3},{"sample":"ET₄NReS₄","E":10553,"mu":1.29},{"sample":"ET₄NReS₄","E":10553.5,"mu":1.28},{"sample":"ET₄NReS₄","E":10554,"mu":1.27},{"sample":"ET₄NReS₄","E":10554.5,"mu":1.255},{"sample":"ET₄NReS₄","E":10555,"mu":1.245},{"sample":"ET₄NReS₄","E":10555.5,"mu":1.235},{"sample":"ET₄NReS₄","E":10556,"mu":1.23},{"sample":"ET₄NReS₄","E":10556.5,"mu":1.22},{"sample":"ET₄NReS₄","E":10557,"mu":1.21},{"sample":"ET₄NReS₄","E":10557.5,"mu":1.2},{"sample":"ET₄NReS₄","E":10558,"mu":1.195},{"sample":"ET₄NReS₄","E":10558.5,"mu":1.185},{"sample":"ET₄NReS₄","E":10559,"mu":1.18},{"sample":"ET₄NReS₄","E":10559.5,"mu":1.175},{"sample":"ET₄NReS₄","E":10560,"mu":1.17},
        {"sample":"Re₂S₇","E":10528,"mu":0.75},{"sample":"Re₂S₇","E":10528.5,"mu":0.76},{"sample":"Re₂S₇","E":10529,"mu":0.775},{"sample":"Re₂S₇","E":10529.5,"mu":0.79},{"sample":"Re₂S₇","E":10530,"mu":0.81},{"sample":"Re₂S₇","E":10530.5,"mu":0.83},{"sample":"Re₂S₇","E":10531,"mu":0.855},{"sample":"Re₂S₇","E":10531.5,"mu":0.88},{"sample":"Re₂S₇","E":10532,"mu":0.91},{"sample":"Re₂S₇","E":10532.5,"mu":0.945},{"sample":"Re₂S₇","E":10533,"mu":0.985},{"sample":"Re₂S₇","E":10533.5,"mu":1.03},{"sample":"Re₂S₇","E":10534,"mu":1.085},{"sample":"Re₂S₇","E":10534.5,"mu":1.15},{"sample":"Re₂S₇","E":10535,"mu":1.23},{"sample":"Re₂S₇","E":10535.5,"mu":1.31},{"sample":"Re₂S₇","E":10536,"mu":1.395},{"sample":"Re₂S₇","E":10536.5,"mu":1.52},{"sample":"Re₂S₇","E":10537,"mu":1.62},{"sample":"Re₂S₇","E":10537.5,"mu":1.7},{"sample":"Re₂S₇","E":10538,"mu":1.78},{"sample":"Re₂S₇","E":10538.5,"mu":1.84},{"sample":"Re₂S₇","E":10539,"mu":1.875},{"sample":"Re₂S₇","E":10539.5,"mu":1.89},{"sample":"Re₂S₇","E":10540,"mu":1.88},{"sample":"Re₂S₇","E":10540.5,"mu":1.835},{"sample":"Re₂S₇","E":10541,"mu":1.785},{"sample":"Re₂S₇","E":10541.5,"mu":1.73},{"sample":"Re₂S₇","E":10542,"mu":1.68},{"sample":"Re₂S₇","E":10542.5,"mu":1.64},{"sample":"Re₂S₇","E":10543,"mu":1.6},{"sample":"Re₂S₇","E":10543.5,"mu":1.57},{"sample":"Re₂S₇","E":10544,"mu":1.54},{"sample":"Re₂S₇","E":10544.5,"mu":1.51},{"sample":"Re₂S₇","E":10545,"mu":1.485},{"sample":"Re₂S₇","E":10545.5,"mu":1.46},{"sample":"Re₂S₇","E":10546,"mu":1.44},{"sample":"Re₂S₇","E":10546.5,"mu":1.425},{"sample":"Re₂S₇","E":10547,"mu":1.41},{"sample":"Re₂S₇","E":10547.5,"mu":1.395},{"sample":"Re₂S₇","E":10548,"mu":1.38},{"sample":"Re₂S₇","E":10548.5,"mu":1.36},{"sample":"Re₂S₇","E":10549,"mu":1.35},{"sample":"Re₂S₇","E":10549.5,"mu":1.335},{"sample":"Re₂S₇","E":10550,"mu":1.32},{"sample":"Re₂S₇","E":10550.5,"mu":1.3},{"sample":"Re₂S₇","E":10551,"mu":1.285},{"sample":"Re₂S₇","E":10551.5,"mu":1.275},{"sample":"Re₂S₇","E":10552,"mu":1.265},{"sample":"Re₂S₇","E":10552.5,"mu":1.25},{"sample":"Re₂S₇","E":10553,"mu":1.24},{"sample":"Re₂S₇","E":10553.5,"mu":1.23},{"sample":"Re₂S₇","E":10554,"mu":1.22},{"sample":"Re₂S₇","E":10554.5,"mu":1.21},{"sample":"Re₂S₇","E":10555,"mu":1.2},{"sample":"Re₂S₇","E":10555.5,"mu":1.195},{"sample":"Re₂S₇","E":10556,"mu":1.19},{"sample":"Re₂S₇","E":10556.5,"mu":1.19},{"sample":"Re₂S₇","E":10557,"mu":1.185},{"sample":"Re₂S₇","E":10557.5,"mu":1.18},{"sample":"Re₂S₇","E":10558,"mu":1.18},{"sample":"Re₂S₇","E":10558.5,"mu":1.175},{"sample":"Re₂S₇","E":10559,"mu":1.175},{"sample":"Re₂S₇","E":10559.5,"mu":1.17},{"sample":"Re₂S₇","E":10560,"mu":1.17},
        {"sample":"ReS₂","E":10528,"mu":0.69},{"sample":"ReS₂","E":10528.5,"mu":0.7},{"sample":"ReS₂","E":10529,"mu":0.71},{"sample":"ReS₂","E":10529.5,"mu":0.725},{"sample":"ReS₂","E":10530,"mu":0.74},{"sample":"ReS₂","E":10530.5,"mu":0.76},{"sample":"ReS₂","E":10531,"mu":0.78},{"sample":"ReS₂","E":10531.5,"mu":0.805},{"sample":"ReS₂","E":10532,"mu":0.835},{"sample":"ReS₂","E":10532.5,"mu":0.87},{"sample":"ReS₂","E":10533,"mu":0.91},{"sample":"ReS₂","E":10533.5,"mu":0.955},{"sample":"ReS₂","E":10534,"mu":1.0},{"sample":"ReS₂","E":10534.5,"mu":1.06},{"sample":"ReS₂","E":10535,"mu":1.145},{"sample":"ReS₂","E":10535.5,"mu":1.26},{"sample":"ReS₂","E":10536,"mu":1.38},{"sample":"ReS₂","E":10536.5,"mu":1.52},{"sample":"ReS₂","E":10537,"mu":1.66},{"sample":"ReS₂","E":10537.5,"mu":1.86},{"sample":"ReS₂","E":10538,"mu":2.03},{"sample":"ReS₂","E":10538.5,"mu":2.135},{"sample":"ReS₂","E":10539,"mu":2.22},{"sample":"ReS₂","E":10539.5,"mu":2.25},{"sample":"ReS₂","E":10540,"mu":2.23},{"sample":"ReS₂","E":10540.5,"mu":2.16},{"sample":"ReS₂","E":10541,"mu":2.06},{"sample":"ReS₂","E":10541.5,"mu":1.93},{"sample":"ReS₂","E":10542,"mu":1.82},{"sample":"ReS₂","E":10542.5,"mu":1.72},{"sample":"ReS₂","E":10543,"mu":1.65},{"sample":"ReS₂","E":10543.5,"mu":1.58},{"sample":"ReS₂","E":10544,"mu":1.535},{"sample":"ReS₂","E":10544.5,"mu":1.51},{"sample":"ReS₂","E":10545,"mu":1.49},{"sample":"ReS₂","E":10545.5,"mu":1.47},{"sample":"ReS₂","E":10546,"mu":1.45},{"sample":"ReS₂","E":10546.5,"mu":1.435},{"sample":"ReS₂","E":10547,"mu":1.425},{"sample":"ReS₂","E":10547.5,"mu":1.415},{"sample":"ReS₂","E":10548,"mu":1.4},{"sample":"ReS₂","E":10548.5,"mu":1.39},{"sample":"ReS₂","E":10549,"mu":1.375},{"sample":"ReS₂","E":10549.5,"mu":1.36},{"sample":"ReS₂","E":10550,"mu":1.345},{"sample":"ReS₂","E":10550.5,"mu":1.33},{"sample":"ReS₂","E":10551,"mu":1.315},{"sample":"ReS₂","E":10551.5,"mu":1.3},{"sample":"ReS₂","E":10552,"mu":1.285},{"sample":"ReS₂","E":10552.5,"mu":1.275},{"sample":"ReS₂","E":10553,"mu":1.265},{"sample":"ReS₂","E":10553.5,"mu":1.255},{"sample":"ReS₂","E":10554,"mu":1.245},{"sample":"ReS₂","E":10554.5,"mu":1.235},{"sample":"ReS₂","E":10555,"mu":1.225},{"sample":"ReS₂","E":10555.5,"mu":1.215},{"sample":"ReS₂","E":10556,"mu":1.205},{"sample":"ReS₂","E":10556.5,"mu":1.195},{"sample":"ReS₂","E":10557,"mu":1.185},{"sample":"ReS₂","E":10557.5,"mu":1.175},{"sample":"ReS₂","E":10558,"mu":1.165},{"sample":"ReS₂","E":10558.5,"mu":1.155},{"sample":"ReS₂","E":10559,"mu":1.15},{"sample":"ReS₂","E":10559.5,"mu":1.14},{"sample":"ReS₂","E":10560,"mu":1.135}
      ]},
      "encoding": {
        "x": {"field": "E", "type": "quantitative", "scale": {"domain": [10528, 10560], "nice": false, "zero": false},
              "axis": {"values": [10530, 10540, 10550, 10560], "format": "d", "title": "Energy (eV)", "labelFontSize": 22, "titleFontSize": 24, "tickSize": 5, "labelPadding": 3, "titlePadding": 3, "domainWidth": 1.2}},
        "y": {"field": "mu", "type": "quantitative", "scale": {"domain": [0, 7.53], "nice": false, "zero": false},
              "axis": {"title": "Normalized absorption", "ticks": false, "labels": false, "titleFontSize": 24, "titlePadding": 5, "domainWidth": 1.2}}
      },
      "layer": [
        {
          "mark": {"type": "line", "strokeWidth": 2, "interpolate": "monotone"},
          "encoding": {
            "color": {"field": "sample", "type": "nominal",
              "scale": {"domain": ["pH6_1w","pH6_3w","pH6_5w","pH7_1w","pH7_3w","pH7_5w","pH8_1w","pH8_3w","pH8_5w","Nanoparticles","NaReO₄","ET₄NReS₄","Re₂S₇","ReS₂"],
                        "range": ["#808080","#808080","#808080","#808080","#808080","#808080","#808080","#808080","#808080","#000000","#1f77b4","#ff7f0e","#8c564b","#d62728"]},
              "legend": {"values": ["NaReO₄","ET₄NReS₄","Re₂S₇","ReS₂"]}},
            "order": {"field": "E", "type": "quantitative"}
          }
        },
        {
          "mark": {"type": "point", "shape": "circle", "filled": false, "size": 28, "strokeWidth": 1.2},
          "encoding": {
            "color": {"field": "sample", "type": "nominal", "legend": {"values": ["NaReO₄","ET₄NReS₄","Re₂S₇","ReS₂"]}}
          }
        },
        {
          "transform": [{"filter": {"and": [{"field": "E", "equal": 10560}, {"field": "sample", "oneOf": ["pH6_1w","pH6_3w","pH6_5w","pH7_1w","pH7_3w","pH7_5w","pH8_1w","pH8_3w","pH8_5w","Nanoparticles"]}]}}],
          "mark": {"type": "text", "align": "right", "baseline": "alphabetic", "dx": -3, "dy": 19, "fontSize": 16.5},
          "encoding": {"text": {"field": "sample"}, "color": {"value": "#262626"}}
        }
      ]
    },
    {
      "data": {"values": [{"state": "Re(IV)", "E": 10539.5, "labelE": 10538.3}, {"state": "Re(VII)", "E": 10542.5, "labelE": 10543.55}]},
      "layer": [
        {
          "mark": {"type": "rule", "strokeDash": [5, 3], "strokeWidth": 2},
          "encoding": {
            "x": {"field": "E", "type": "quantitative"},
            "color": {"condition": {"test": "datum.state == 'Re(IV)'", "value": "#e0474c"}, "value": "#3a8cc8"}
          }
        },
        {
          "mark": {"type": "text", "align": "center", "baseline": "alphabetic", "fontSize": 21},
          "encoding": {
            "x": {"field": "labelE", "type": "quantitative"},
            "y": {"datum": 7.57, "type": "quantitative"},
            "text": {"field": "state"},
            "color": {"condition": {"test": "datum.state == 'Re(IV)'", "value": "#d62728"}, "value": "#1f77b4"}
          }
        }
      ]
    }
  ]
}
